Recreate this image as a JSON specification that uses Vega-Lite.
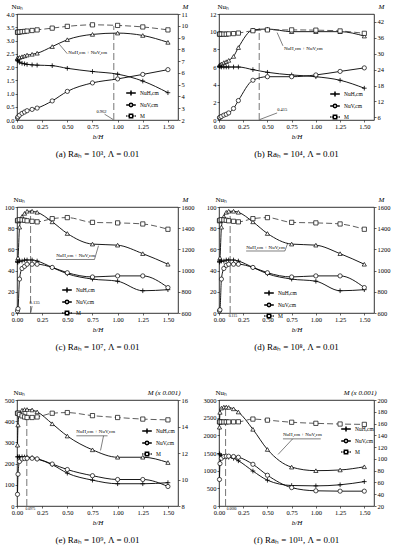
{
"$schema":"https://vega.github.io/schema/vega-lite/v6.json",
"padding":{"left":3,"top":1,"right":0,"bottom":0},
"background":"white",
"datasets":{"d":[
{"p":"a","x":0.005,"NuH":2.25,"NuV":0.08,"S":2.33,"M":9.45},
{"p":"a","x":0.01,"NuH":2.22,"NuV":0.12,"S":2.34,"M":9.45},
{"p":"a","x":0.025,"NuH":2.18,"NuV":0.18,"S":2.36,"M":9.47},
{"p":"a","x":0.05,"NuH":2.14,"NuV":0.25,"S":2.39,"M":9.5},
{"p":"a","x":0.075,"NuH":2.12,"NuV":0.3,"S":2.42,"M":9.52},
{"p":"a","x":0.1,"NuH":2.1,"NuV":0.35,"S":2.45,"M":9.55},
{"p":"a","x":0.15,"NuH":2.08,"NuV":0.4,"S":2.48,"M":9.6},
{"p":"a","x":0.2,"NuH":2.07,"NuV":0.45,"S":2.52,"M":9.65},
{"p":"a","x":0.35,"NuH":2.05,"NuV":0.72,"S":2.77,"M":9.8},
{"p":"a","x":0.5,"NuH":1.95,"NuV":1.08,"S":3.03,"M":9.95},
{"p":"a","x":0.75,"NuH":1.83,"NuV":1.4,"S":3.23,"M":10.08},
{"p":"a","x":1,"NuH":1.73,"NuV":1.55,"S":3.28,"M":10.03},
{"p":"a","x":1.25,"NuH":1.47,"NuV":1.72,"S":3.19,"M":9.9},
{"p":"a","x":1.5,"NuH":1.03,"NuV":1.9,"S":2.93,"M":9.65},
{"p":"b","x":0.005,"NuH":6.1,"NuV":0.25,"S":6.2,"M":37.4},
{"p":"b","x":0.01,"NuH":6.05,"NuV":0.3,"S":6.25,"M":37.4},
{"p":"b","x":0.025,"NuH":6.0,"NuV":0.4,"S":6.35,"M":37.4},
{"p":"b","x":0.05,"NuH":6.0,"NuV":0.55,"S":6.5,"M":37.4},
{"p":"b","x":0.075,"NuH":6.0,"NuV":0.65,"S":6.6,"M":37.4},
{"p":"b","x":0.1,"NuH":6.0,"NuV":0.8,"S":6.75,"M":37.5},
{"p":"b","x":0.15,"NuH":6.0,"NuV":1.3,"S":7.2,"M":37.6},
{"p":"b","x":0.2,"NuH":6.0,"NuV":2.2,"S":8.2,"M":37.8},
{"p":"b","x":0.35,"NuH":5.7,"NuV":4.5,"S":10.2,"M":38.7},
{"p":"b","x":0.5,"NuH":5.4,"NuV":4.9,"S":10.3,"M":39.0},
{"p":"b","x":0.75,"NuH":5.1,"NuV":4.9,"S":10.0,"M":39.0},
{"p":"b","x":1,"NuH":4.9,"NuV":5.1,"S":10.0,"M":38.9},
{"p":"b","x":1.25,"NuH":4.5,"NuV":5.5,"S":10.0,"M":38.6},
{"p":"b","x":1.5,"NuH":3.6,"NuV":5.9,"S":9.5,"M":37.7},
{"p":"c","x":0.005,"NuH":48,"NuV":2,"S":50,"M":1470},
{"p":"c","x":0.01,"NuH":48,"NuV":4,"S":52,"M":1475},
{"p":"c","x":0.025,"NuH":49,"NuV":32,"S":81,"M":1480},
{"p":"c","x":0.05,"NuH":49,"NuV":42,"S":91,"M":1478},
{"p":"c","x":0.075,"NuH":50,"NuV":44,"S":94,"M":1475},
{"p":"c","x":0.1,"NuH":50,"NuV":46,"S":96,"M":1470},
{"p":"c","x":0.15,"NuH":50,"NuV":46,"S":96,"M":1465},
{"p":"c","x":0.2,"NuH":49,"NuV":46,"S":95,"M":1460},
{"p":"c","x":0.35,"NuH":43,"NuV":43,"S":86,"M":1490},
{"p":"c","x":0.5,"NuH":37,"NuV":38,"S":75,"M":1500},
{"p":"c","x":0.75,"NuH":32,"NuV":34,"S":65,"M":1455},
{"p":"c","x":1,"NuH":30,"NuV":35,"S":64,"M":1450},
{"p":"c","x":1.25,"NuH":21,"NuV":35,"S":56,"M":1440},
{"p":"c","x":1.5,"NuH":22,"NuV":24,"S":46,"M":1390},
{"p":"d","x":0.005,"NuH":48,"NuV":2,"S":50,"M":1470},
{"p":"d","x":0.01,"NuH":49,"NuV":3,"S":52,"M":1475},
{"p":"d","x":0.025,"NuH":49,"NuV":32,"S":81,"M":1480},
{"p":"d","x":0.05,"NuH":49,"NuV":42,"S":91,"M":1478},
{"p":"d","x":0.075,"NuH":50,"NuV":45,"S":95,"M":1475},
{"p":"d","x":0.1,"NuH":50,"NuV":46,"S":96,"M":1470},
{"p":"d","x":0.15,"NuH":50,"NuV":46,"S":96,"M":1465},
{"p":"d","x":0.2,"NuH":49,"NuV":46,"S":95,"M":1460},
{"p":"d","x":0.35,"NuH":43,"NuV":43,"S":86,"M":1490},
{"p":"d","x":0.5,"NuH":37,"NuV":38,"S":75,"M":1500},
{"p":"d","x":0.75,"NuH":32,"NuV":34,"S":65,"M":1455},
{"p":"d","x":1,"NuH":30,"NuV":35,"S":64,"M":1450},
{"p":"d","x":1.25,"NuH":21,"NuV":35,"S":56,"M":1440},
{"p":"d","x":1.5,"NuH":22,"NuV":24,"S":46,"M":1390},
{"p":"e","x":0.005,"NuH":232,"NuV":55,"S":287,"M":15.0},
{"p":"e","x":0.01,"NuH":232,"NuV":150,"S":382,"M":15.0},
{"p":"e","x":0.025,"NuH":232,"NuV":210,"S":440,"M":14.9},
{"p":"e","x":0.05,"NuH":232,"NuV":222,"S":452,"M":14.8},
{"p":"e","x":0.075,"NuH":231,"NuV":224,"S":455,"M":14.72},
{"p":"e","x":0.1,"NuH":230,"NuV":225,"S":455,"M":14.68},
{"p":"e","x":0.15,"NuH":228,"NuV":225,"S":453,"M":14.68},
{"p":"e","x":0.2,"NuH":222,"NuV":222,"S":444,"M":14.72},
{"p":"e","x":0.35,"NuH":195,"NuV":198,"S":388,"M":15.0},
{"p":"e","x":0.5,"NuH":155,"NuV":172,"S":330,"M":15.05},
{"p":"e","x":0.75,"NuH":122,"NuV":143,"S":265,"M":14.82},
{"p":"e","x":1,"NuH":105,"NuV":125,"S":230,"M":14.68},
{"p":"e","x":1.25,"NuH":105,"NuV":125,"S":230,"M":14.56},
{"p":"e","x":1.5,"NuH":110,"NuV":92,"S":205,"M":14.5},
{"p":"f","x":0.005,"NuH":1480,"NuV":750,"S":2230,"M":162.8},
{"p":"f","x":0.01,"NuH":1450,"NuV":1200,"S":2650,"M":162.8},
{"p":"f","x":0.025,"NuH":1420,"NuV":1350,"S":2770,"M":162.8},
{"p":"f","x":0.05,"NuH":1400,"NuV":1400,"S":2800,"M":162.8},
{"p":"f","x":0.075,"NuH":1390,"NuV":1410,"S":2800,"M":162.8},
{"p":"f","x":0.1,"NuH":1380,"NuV":1410,"S":2790,"M":162.8},
{"p":"f","x":0.15,"NuH":1350,"NuV":1400,"S":2750,"M":162.9},
{"p":"f","x":0.2,"NuH":1280,"NuV":1380,"S":2660,"M":163.0},
{"p":"f","x":0.35,"NuH":990,"NuV":1180,"S":2170,"M":167.6},
{"p":"f","x":0.5,"NuH":730,"NuV":870,"S":1600,"M":165.8},
{"p":"f","x":0.75,"NuH":580,"NuV":520,"S":1100,"M":162.2},
{"p":"f","x":1,"NuH":570,"NuV":430,"S":1000,"M":160.4},
{"p":"f","x":1.25,"NuH":600,"NuV":420,"S":1020,"M":159.2},
{"p":"f","x":1.5,"NuH":690,"NuV":420,"S":1110,"M":158.6}
],
"leg":[{"leg":"NuH"},{"leg":"NuV"},{"leg":"M"}]
},
"columns":2,
"bounds":"flush",
"spacing":{"row":87,"column":41},
"resolve":{"scale":{"shape":"independent"},"legend":{"shape":"independent"}},
"concat":[
{"width":161,"height":106,"title":"(a) Raₕ = 10³, Λ = 0.01","data":{"name":"d"},
"transform":[{"filter":"datum.p==='a'"},{"fold":["NuH","NuV","S","M"],"as":["s","y"]}],
"resolve":{"scale":{"y":"independent"}},
"layer":[
{"layer":[
{"data":{"values":[{}]},"mark":{"type":"rule","color":"#777","strokeDash":[7,3],"strokeWidth":1},"encoding":{"x":{"datum":0.962},"y":{"datum":0},"y2":{"datum":3.55}}},
{"transform":[{"filter":"datum.s!=='M'"}],"mark":{"type":"line","interpolate":"monotone","color":"black","strokeWidth":0.9},
"encoding":{"x":{"field":"x","type":"quantitative","scale":{"domain":[0,1.5]},"axis":{"title":"b/H","titleFontStyle":"italic","values":[0,0.25,0.5,0.75,1,1.25,1.5],"tickCount":20,"format":".2f"}},
"y":{"field":"y","type":"quantitative","scale":{"domain":[0,4]},"axis":{"title":"Nuₕ","values":[0,0.5,1,1.5,2,2.5,3,3.5,4],"tickCount":20,"format":".1f","titleAngle":0,"titleX":-6,"titleY":-5,"titleAlign":"left","titleBaseline":"bottom"}},"detail":{"field":"s"}}},
{"transform":[{"filter":"datum.s==='S'"}],"mark":{"type":"point","shape":"triangle-up","filled":true,"fill":"white","stroke":"black","strokeWidth":0.7,"size":18,"opacity":1},"encoding":{"x":{"field":"x","type":"quantitative"},"y":{"field":"y","type":"quantitative"}}},
{"transform":[{"filter":"datum.s==='NuH'"}],"mark":{"type":"point","shape":"M-1,0L1,0M0,-1L0,1","filled":true,"fill":"white","stroke":"black","strokeWidth":0.8,"size":22,"opacity":1},"encoding":{"x":{"field":"x","type":"quantitative"},"y":{"field":"y","type":"quantitative"}}},
{"transform":[{"filter":"datum.s==='NuV'"}],"mark":{"type":"point","shape":"circle","filled":true,"fill":"white","stroke":"black","strokeWidth":0.7,"size":18,"opacity":1},"encoding":{"x":{"field":"x","type":"quantitative"},"y":{"field":"y","type":"quantitative"}}},
{"data":{"name":"leg"},"mark":{"type":"point","filled":true,"fill":"white","stroke":"black","strokeWidth":0.7,"opacity":0},"encoding":{"shape":{"field":"leg","type":"nominal","scale":{"domain":["NuH","NuV","M"],"range":["M-1.6,0L1.6,0M0,-0.8L0,0.8","M-1.6,0L-0.55,0M0.55,0L1.6,0M0.55,0A0.55,0.55,0,1,1,-0.55,0A0.55,0.55,0,1,1,0.55,0","M-1.6,0L-1.2,0M-0.95,0L-0.55,0M0.55,0L0.95,0M1.2,0L1.6,0M-0.55,-0.55L0.55,-0.55L0.55,0.55L-0.55,0.55Z"]},"legend":{"title":null,"orient":"none","legendX":110,"legendY":75,"symbolSize":36,"symbolOpacity":1,"labelFontSize":5.5,"labelOffset":5,"rowPadding":1,"labelExpr":"datum.value==='NuH'?'NuH,cm':datum.value==='NuV'?'NuV,cm':'M'"}}}},
{"data":{"values":[{}]},"mark":{"type":"text","fontSize":4.5,"align":"left"},"encoding":{"x":{"datum":0.79},"y":{"datum":0.3},"text":{"value":"0.962"}}},
{"data":{"values":[{}]},"mark":{"type":"rule","color":"black","strokeWidth":0.5},"encoding":{"x":{"datum":0.87},"y":{"datum":0.22},"x2":{"datum":0.955},"y2":{"datum":0.02}}},
{"data":{"values":[{}]},"mark":{"type":"text","fontSize":5,"align":"left"},"encoding":{"x":{"datum":0.51},"y":{"datum":2.55},"text":{"value":"NuH,cm + NuV,cm"}}},
{"data":{"values":[{}]},"mark":{"type":"rule","color":"black","strokeWidth":0.5},"encoding":{"x":{"datum":0.5},"y":{"datum":2.5},"x2":{"datum":0.42},"y2":{"datum":2.86}}}
]},
{"layer":[
{"transform":[{"filter":"datum.s==='M'"}],"mark":{"type":"line","interpolate":"monotone","color":"#333","strokeWidth":0.8,"strokeDash":[6,3]},
"encoding":{"x":{"field":"x","type":"quantitative"},"y":{"field":"y","type":"quantitative","scale":{"domain":[2,11]},"axis":{"orient":"right","title":"M","titleFontStyle":"italic","values":[2,3,4,5,6,7,8,9,10,11],"tickCount":20,"format":"d","titleAngle":0,"titleX":4,"titleY":-5,"titleAlign":"left","titleBaseline":"bottom"}}}},
{"transform":[{"filter":"datum.s==='M'"}],"mark":{"type":"point","shape":"square","filled":true,"fill":"white","stroke":"black","strokeWidth":0.7,"size":18,"opacity":1},"encoding":{"x":{"field":"x","type":"quantitative"},"y":{"field":"y","type":"quantitative"}}}
]}
]},
{"width":155,"height":106,"title":"(b) Raₕ = 10⁴, Λ = 0.01","data":{"name":"d"},
"transform":[{"filter":"datum.p==='b'"},{"fold":["NuH","NuV","S","M"],"as":["s","y"]}],
"resolve":{"scale":{"y":"independent"}},
"layer":[
{"layer":[
{"data":{"values":[{}]},"mark":{"type":"rule","color":"#777","strokeDash":[7,3],"strokeWidth":1},"encoding":{"x":{"datum":0.415},"y":{"datum":0},"y2":{"datum":10.4}}},
{"transform":[{"filter":"datum.s!=='M'"}],"mark":{"type":"line","interpolate":"monotone","color":"black","strokeWidth":0.9},
"encoding":{"x":{"field":"x","type":"quantitative","scale":{"domain":[0,1.5]},"axis":{"title":"b/H","titleFontStyle":"italic","values":[0,0.25,0.5,0.75,1,1.25,1.5],"tickCount":20,"format":".2f"}},
"y":{"field":"y","type":"quantitative","scale":{"domain":[0,12]},"axis":{"title":"Nuₕ","values":[0,2,4,6,8,10,12],"tickCount":20,"format":"d","titleAngle":0,"titleX":-2,"titleY":-5,"titleAlign":"left","titleBaseline":"bottom"}},"detail":{"field":"s"}}},
{"transform":[{"filter":"datum.s==='S'"}],"mark":{"type":"point","shape":"triangle-up","filled":true,"fill":"white","stroke":"black","strokeWidth":0.7,"size":18,"opacity":1},"encoding":{"x":{"field":"x","type":"quantitative"},"y":{"field":"y","type":"quantitative"}}},
{"transform":[{"filter":"datum.s==='NuH'"}],"mark":{"type":"point","shape":"M-1,0L1,0M0,-1L0,1","filled":true,"fill":"white","stroke":"black","strokeWidth":0.8,"size":22,"opacity":1},"encoding":{"x":{"field":"x","type":"quantitative"},"y":{"field":"y","type":"quantitative"}}},
{"transform":[{"filter":"datum.s==='NuV'"}],"mark":{"type":"point","shape":"circle","filled":true,"fill":"white","stroke":"black","strokeWidth":0.7,"size":18,"opacity":1},"encoding":{"x":{"field":"x","type":"quantitative"},"y":{"field":"y","type":"quantitative"}}},
{"data":{"name":"leg"},"mark":{"type":"point","filled":true,"fill":"white","stroke":"black","strokeWidth":0.7,"opacity":0},"encoding":{"shape":{"field":"leg","type":"nominal","scale":{"domain":["NuH","NuV","M"],"range":["M-1.6,0L1.6,0M0,-0.8L0,0.8","M-1.6,0L-0.55,0M0.55,0L1.6,0M0.55,0A0.55,0.55,0,1,1,-0.55,0A0.55,0.55,0,1,1,0.55,0","M-1.6,0L-1.2,0M-0.95,0L-0.55,0M0.55,0L0.95,0M1.2,0L1.6,0M-0.55,-0.55L0.55,-0.55L0.55,0.55L-0.55,0.55Z"]},"legend":{"title":null,"orient":"none","legendX":112,"legendY":76,"symbolSize":36,"symbolOpacity":1,"labelFontSize":5.5,"labelOffset":5,"rowPadding":1,"labelExpr":"datum.value==='NuH'?'NuH,cm':datum.value==='NuV'?'NuV,cm':'M'"}}}},
{"data":{"values":[{}]},"mark":{"type":"text","fontSize":4.5,"align":"left"},"encoding":{"x":{"datum":0.6},"y":{"datum":1.1},"text":{"value":"0.415"}}},
{"data":{"values":[{}]},"mark":{"type":"rule","color":"black","strokeWidth":0.5},"encoding":{"x":{"datum":0.6},"y":{"datum":0.8},"x2":{"datum":0.42},"y2":{"datum":0.05}}},
{"data":{"values":[{}]},"mark":{"type":"text","fontSize":5,"align":"left"},"encoding":{"x":{"datum":0.67},"y":{"datum":8.1},"text":{"value":"NuH,cm + NuV,cm"}}},
{"data":{"values":[{}]},"mark":{"type":"rule","color":"black","strokeWidth":0.5},"encoding":{"x":{"datum":0.66},"y":{"datum":8.4},"x2":{"datum":0.6},"y2":{"datum":9.9}}}
]},
{"layer":[
{"transform":[{"filter":"datum.s==='M'"}],"mark":{"type":"line","interpolate":"monotone","color":"#333","strokeWidth":0.8,"strokeDash":[6,3]},
"encoding":{"x":{"field":"x","type":"quantitative"},"y":{"field":"y","type":"quantitative","scale":{"domain":[6,42]},"axis":{"orient":"right","title":"M","titleFontStyle":"italic","values":[6,12,18,24,30,36,42],"tickCount":20,"format":"d","titleAngle":0,"titleX":4,"titleY":-5,"titleAlign":"left","titleBaseline":"bottom"}}}},
{"transform":[{"filter":"datum.s==='M'"}],"mark":{"type":"point","shape":"square","filled":true,"fill":"white","stroke":"black","strokeWidth":0.7,"size":18,"opacity":1},"encoding":{"x":{"field":"x","type":"quantitative"},"y":{"field":"y","type":"quantitative"}}}
]}
]},
{"width":161,"height":106,"title":"(c) Raₕ = 10⁷, Λ = 0.01","data":{"name":"d"},
"transform":[{"filter":"datum.p==='c'"},{"fold":["NuH","NuV","S","M"],"as":["s","y"]}],
"resolve":{"scale":{"y":"independent"}},
"layer":[
{"layer":[
{"data":{"values":[{}]},"mark":{"type":"rule","color":"#777","strokeDash":[7,3],"strokeWidth":1},"encoding":{"x":{"datum":0.135},"y":{"datum":0},"y2":{"datum":97}}},
{"transform":[{"filter":"datum.s!=='M'"}],"mark":{"type":"line","interpolate":"monotone","color":"black","strokeWidth":0.9},
"encoding":{"x":{"field":"x","type":"quantitative","scale":{"domain":[0,1.5]},"axis":{"title":"b/H","titleFontStyle":"italic","values":[0,0.25,0.5,0.75,1,1.25,1.5],"tickCount":20,"format":".2f"}},
"y":{"field":"y","type":"quantitative","scale":{"domain":[0,100]},"axis":{"title":"Nuₕ","values":[0,20,40,60,80,100],"tickCount":20,"format":"d","titleAngle":0,"titleX":-4,"titleY":-5,"titleAlign":"left","titleBaseline":"bottom"}},"detail":{"field":"s"}}},
{"transform":[{"filter":"datum.s==='S'"}],"mark":{"type":"point","shape":"triangle-up","filled":true,"fill":"white","stroke":"black","strokeWidth":0.7,"size":18,"opacity":1},"encoding":{"x":{"field":"x","type":"quantitative"},"y":{"field":"y","type":"quantitative"}}},
{"transform":[{"filter":"datum.s==='NuH'"}],"mark":{"type":"point","shape":"M-1,0L1,0M0,-1L0,1","filled":true,"fill":"white","stroke":"black","strokeWidth":0.8,"size":22,"opacity":1},"encoding":{"x":{"field":"x","type":"quantitative"},"y":{"field":"y","type":"quantitative"}}},
{"transform":[{"filter":"datum.s==='NuV'"}],"mark":{"type":"point","shape":"circle","filled":true,"fill":"white","stroke":"black","strokeWidth":0.7,"size":18,"opacity":1},"encoding":{"x":{"field":"x","type":"quantitative"},"y":{"field":"y","type":"quantitative"}}},
{"data":{"name":"leg"},"mark":{"type":"point","filled":true,"fill":"white","stroke":"black","strokeWidth":0.7,"opacity":0},"encoding":{"shape":{"field":"leg","type":"nominal","scale":{"domain":["NuH","NuV","M"],"range":["M-1.6,0L1.6,0M0,-0.8L0,0.8","M-1.6,0L-0.55,0M0.55,0L1.6,0M0.55,0A0.55,0.55,0,1,1,-0.55,0A0.55,0.55,0,1,1,0.55,0","M-1.6,0L-1.2,0M-0.95,0L-0.55,0M0.55,0L0.95,0M1.2,0L1.6,0M-0.55,-0.55L0.55,-0.55L0.55,0.55L-0.55,0.55Z"]},"legend":{"title":null,"orient":"none","legendX":46,"legendY":79,"symbolSize":36,"symbolOpacity":1,"labelFontSize":5.5,"labelOffset":5,"rowPadding":1,"labelExpr":"datum.value==='NuH'?'NuH,cm':datum.value==='NuV'?'NuV,cm':'M'"}}}},
{"data":{"values":[{}]},"mark":{"type":"text","fontSize":4.5,"align":"left"},"encoding":{"x":{"datum":0.125},"y":{"datum":9.3},"text":{"value":"0.135"}}},
{"data":{"values":[{}]},"mark":{"type":"rule","color":"black","strokeWidth":0.5},"encoding":{"x":{"datum":0.15},"y":{"datum":6.5},"x2":{"datum":0.137},"y2":{"datum":0.5}}},
{"data":{"values":[{}]},"mark":{"type":"text","fontSize":5,"align":"left"},"encoding":{"x":{"datum":0.39},"y":{"datum":55},"text":{"value":"NuH,cm + NuV,cm"}}},
{"data":{"values":[{}]},"mark":{"type":"rule","color":"black","strokeWidth":0.5},"encoding":{"x":{"datum":0.39},"y":{"datum":50.5},"x2":{"datum":0.77},"y2":{"datum":50.5}}},
{"data":{"values":[{}]},"mark":{"type":"rule","color":"black","strokeWidth":0.5},"encoding":{"x":{"datum":0.77},"y":{"datum":50.5},"x2":{"datum":0.81},"y2":{"datum":63.5}}}
]},
{"layer":[
{"transform":[{"filter":"datum.s==='M'"}],"mark":{"type":"line","interpolate":"monotone","color":"#333","strokeWidth":0.8,"strokeDash":[6,3]},
"encoding":{"x":{"field":"x","type":"quantitative"},"y":{"field":"y","type":"quantitative","scale":{"domain":[600,1600]},"axis":{"orient":"right","title":"M","titleFontStyle":"italic","values":[600,800,1000,1200,1400,1600],"tickCount":20,"format":"d","titleAngle":0,"titleX":4,"titleY":-5,"titleAlign":"left","titleBaseline":"bottom"}}}},
{"transform":[{"filter":"datum.s==='M'"}],"mark":{"type":"point","shape":"square","filled":true,"fill":"white","stroke":"black","strokeWidth":0.7,"size":18,"opacity":1},"encoding":{"x":{"field":"x","type":"quantitative"},"y":{"field":"y","type":"quantitative"}}}
]}
]},
{"width":155,"height":106,"title":"(d) Raₕ = 10⁸, Λ = 0.01","data":{"name":"d"},
"transform":[{"filter":"datum.p==='d'"},{"fold":["NuH","NuV","S","M"],"as":["s","y"]}],
"resolve":{"scale":{"y":"independent"}},
"layer":[
{"layer":[
{"data":{"values":[{}]},"mark":{"type":"rule","color":"#777","strokeDash":[7,3],"strokeWidth":1},"encoding":{"x":{"datum":0.115},"y":{"datum":0},"y2":{"datum":96}}},
{"transform":[{"filter":"datum.s!=='M'"}],"mark":{"type":"line","interpolate":"monotone","color":"black","strokeWidth":0.9},
"encoding":{"x":{"field":"x","type":"quantitative","scale":{"domain":[0,1.5]},"axis":{"title":"b/H","titleFontStyle":"italic","values":[0,0.25,0.5,0.75,1,1.25,1.5],"tickCount":20,"format":".2f"}},
"y":{"field":"y","type":"quantitative","scale":{"domain":[0,100]},"axis":{"title":"Nuₕ","values":[0,20,40,60,80,100],"tickCount":20,"format":"d","titleAngle":0,"titleX":-4,"titleY":-5,"titleAlign":"left","titleBaseline":"bottom"}},"detail":{"field":"s"}}},
{"transform":[{"filter":"datum.s==='S'"}],"mark":{"type":"point","shape":"triangle-up","filled":true,"fill":"white","stroke":"black","strokeWidth":0.7,"size":18,"opacity":1},"encoding":{"x":{"field":"x","type":"quantitative"},"y":{"field":"y","type":"quantitative"}}},
{"transform":[{"filter":"datum.s==='NuH'"}],"mark":{"type":"point","shape":"M-1,0L1,0M0,-1L0,1","filled":true,"fill":"white","stroke":"black","strokeWidth":0.8,"size":22,"opacity":1},"encoding":{"x":{"field":"x","type":"quantitative"},"y":{"field":"y","type":"quantitative"}}},
{"transform":[{"filter":"datum.s==='NuV'"}],"mark":{"type":"point","shape":"circle","filled":true,"fill":"white","stroke":"black","strokeWidth":0.7,"size":18,"opacity":1},"encoding":{"x":{"field":"x","type":"quantitative"},"y":{"field":"y","type":"quantitative"}}},
{"data":{"name":"leg"},"mark":{"type":"point","filled":true,"fill":"white","stroke":"black","strokeWidth":0.7,"opacity":0},"encoding":{"shape":{"field":"leg","type":"nominal","scale":{"domain":["NuH","NuV","M"],"range":["M-1.6,0L1.6,0M0,-0.8L0,0.8","M-1.6,0L-0.55,0M0.55,0L1.6,0M0.55,0A0.55,0.55,0,1,1,-0.55,0A0.55,0.55,0,1,1,0.55,0","M-1.6,0L-1.2,0M-0.95,0L-0.55,0M0.55,0L0.95,0M1.2,0L1.6,0M-0.55,-0.55L0.55,-0.55L0.55,0.55L-0.55,0.55Z"]},"legend":{"title":null,"orient":"none","legendX":46,"legendY":82,"symbolSize":36,"symbolOpacity":1,"labelFontSize":5.5,"labelOffset":5,"rowPadding":1,"labelExpr":"datum.value==='NuH'?'NuH,cm':datum.value==='NuV'?'NuV,cm':'M'"}}}},
{"data":{"values":[{}]},"mark":{"type":"text","fontSize":3.8,"align":"left","baseline":"top"},"encoding":{"x":{"datum":0.1},"y":{"datum":-1.2},"text":{"value":"0.115"}}},
{"data":{"values":[{}]},"mark":{"type":"text","fontSize":5,"align":"left"},"encoding":{"x":{"datum":0.28},"y":{"datum":62},"text":{"value":"NuH,cm + NuV,cm"}}},
{"data":{"values":[{}]},"mark":{"type":"rule","color":"black","strokeWidth":0.5},"encoding":{"x":{"datum":0.28},"y":{"datum":58.5},"x2":{"datum":0.68},"y2":{"datum":58.5}}},
{"data":{"values":[{}]},"mark":{"type":"rule","color":"black","strokeWidth":0.5},"encoding":{"x":{"datum":0.68},"y":{"datum":58.5},"x2":{"datum":0.71},"y2":{"datum":66}}}
]},
{"layer":[
{"transform":[{"filter":"datum.s==='M'"}],"mark":{"type":"line","interpolate":"monotone","color":"#333","strokeWidth":0.8,"strokeDash":[6,3]},
"encoding":{"x":{"field":"x","type":"quantitative"},"y":{"field":"y","type":"quantitative","scale":{"domain":[600,1600]},"axis":{"orient":"right","title":"M","titleFontStyle":"italic","values":[600,800,1000,1200,1400,1600],"tickCount":20,"format":"d","titleAngle":0,"titleX":4,"titleY":-5,"titleAlign":"left","titleBaseline":"bottom"}}}},
{"transform":[{"filter":"datum.s==='M'"}],"mark":{"type":"point","shape":"square","filled":true,"fill":"white","stroke":"black","strokeWidth":0.7,"size":18,"opacity":1},"encoding":{"x":{"field":"x","type":"quantitative"},"y":{"field":"y","type":"quantitative"}}}
]}
]},
{"width":161,"height":106,"title":"(e) Raₕ = 10⁹, Λ = 0.01","data":{"name":"d"},
"transform":[{"filter":"datum.p==='e'"},{"fold":["NuH","NuV","S","M"],"as":["s","y"]}],
"resolve":{"scale":{"y":"independent"}},
"layer":[
{"layer":[
{"data":{"values":[{}]},"mark":{"type":"rule","color":"#777","strokeDash":[7,3],"strokeWidth":1},"encoding":{"x":{"datum":0.0975},"y":{"datum":0},"y2":{"datum":455}}},
{"transform":[{"filter":"datum.s!=='M'"}],"mark":{"type":"line","interpolate":"monotone","color":"black","strokeWidth":0.9},
"encoding":{"x":{"field":"x","type":"quantitative","scale":{"domain":[0,1.5]},"axis":{"title":"b/H","titleFontStyle":"italic","values":[0,0.25,0.5,0.75,1,1.25,1.5],"tickCount":20,"format":".2f"}},
"y":{"field":"y","type":"quantitative","scale":{"domain":[0,500]},"axis":{"title":"Nuₕ","values":[0,100,200,300,400,500],"tickCount":20,"format":"d","titleAngle":0,"titleX":-4,"titleY":-5,"titleAlign":"left","titleBaseline":"bottom"}},"detail":{"field":"s"}}},
{"transform":[{"filter":"datum.s==='S'"}],"mark":{"type":"point","shape":"triangle-up","filled":true,"fill":"white","stroke":"black","strokeWidth":0.7,"size":18,"opacity":1},"encoding":{"x":{"field":"x","type":"quantitative"},"y":{"field":"y","type":"quantitative"}}},
{"transform":[{"filter":"datum.s==='NuH'"}],"mark":{"type":"point","shape":"M-1,0L1,0M0,-1L0,1","filled":true,"fill":"white","stroke":"black","strokeWidth":0.8,"size":22,"opacity":1},"encoding":{"x":{"field":"x","type":"quantitative"},"y":{"field":"y","type":"quantitative"}}},
{"transform":[{"filter":"datum.s==='NuV'"}],"mark":{"type":"point","shape":"circle","filled":true,"fill":"white","stroke":"black","strokeWidth":0.7,"size":18,"opacity":1},"encoding":{"x":{"field":"x","type":"quantitative"},"y":{"field":"y","type":"quantitative"}}},
{"data":{"name":"leg"},"mark":{"type":"point","filled":true,"fill":"white","stroke":"black","strokeWidth":0.7,"opacity":0},"encoding":{"shape":{"field":"leg","type":"nominal","scale":{"domain":["NuH","NuV","M"],"range":["M-1.6,0L1.6,0M0,-0.8L0,0.8","M-1.6,0L-0.55,0M0.55,0L1.6,0M0.55,0A0.55,0.55,0,1,1,-0.55,0A0.55,0.55,0,1,1,0.55,0","M-1.6,0L-1.2,0M-0.95,0L-0.55,0M0.55,0L0.95,0M1.2,0L1.6,0M-0.55,-0.55L0.55,-0.55L0.55,0.55L-0.55,0.55Z"]},"legend":{"title":null,"orient":"none","legendX":126,"legendY":27,"symbolSize":36,"symbolOpacity":1,"labelFontSize":5.5,"labelOffset":5,"rowPadding":1,"labelExpr":"datum.value==='NuH'?'NuH,cm':datum.value==='NuV'?'NuV,cm':'M'"}}}},
{"data":{"values":[{}]},"mark":{"type":"text","fontSize":3.5,"align":"left","baseline":"top"},"encoding":{"x":{"datum":0.085},"y":{"datum":-4},"text":{"value":"0.0975"}}},
{"data":{"values":[{}]},"mark":{"type":"text","fontSize":5,"align":"left"},"encoding":{"x":{"datum":0.59},"y":{"datum":355},"text":{"value":"NuH,cm + NuV,cm"}}},
{"data":{"values":[{}]},"mark":{"type":"rule","color":"black","strokeWidth":0.5},"encoding":{"x":{"datum":0.59},"y":{"datum":331},"x2":{"datum":0.9},"y2":{"datum":331}}},
{"data":{"values":[{}]},"mark":{"type":"rule","color":"black","strokeWidth":0.5},"encoding":{"x":{"datum":0.86},"y":{"datum":331},"x2":{"datum":0.83},"y2":{"datum":262}}}
]},
{"layer":[
{"transform":[{"filter":"datum.s==='M'"}],"mark":{"type":"line","interpolate":"monotone","color":"#333","strokeWidth":0.8,"strokeDash":[6,3]},
"encoding":{"x":{"field":"x","type":"quantitative"},"y":{"field":"y","type":"quantitative","scale":{"domain":[8,16]},"axis":{"orient":"right","title":"M (x 0.001)","titleFontStyle":"italic","values":[8,10,12,14,16],"tickCount":20,"format":"d","titleAngle":0,"titleX":2,"titleY":-5,"titleAlign":"right","titleBaseline":"bottom"}}}},
{"transform":[{"filter":"datum.s==='M'"}],"mark":{"type":"point","shape":"square","filled":true,"fill":"white","stroke":"black","strokeWidth":0.7,"size":18,"opacity":1},"encoding":{"x":{"field":"x","type":"quantitative"},"y":{"field":"y","type":"quantitative"}}}
]}
]},
{"width":155,"height":106,"title":"(f) Raₕ = 10¹¹, Λ = 0.01","data":{"name":"d"},
"transform":[{"filter":"datum.p==='f'"},{"fold":["NuH","NuV","S","M"],"as":["s","y"]}],
"resolve":{"scale":{"y":"independent"}},
"layer":[
{"layer":[
{"data":{"values":[{}]},"mark":{"type":"rule","color":"#777","strokeDash":[7,3],"strokeWidth":1},"encoding":{"x":{"datum":0.068},"y":{"datum":0},"y2":{"datum":2800}}},
{"transform":[{"filter":"datum.s!=='M'"}],"mark":{"type":"line","interpolate":"monotone","color":"black","strokeWidth":0.9},
"encoding":{"x":{"field":"x","type":"quantitative","scale":{"domain":[0,1.5]},"axis":{"title":"b/H","titleFontStyle":"italic","values":[0,0.25,0.5,0.75,1,1.25,1.5],"tickCount":20,"format":".2f"}},
"y":{"field":"y","type":"quantitative","scale":{"domain":[0,3000]},"axis":{"title":"Nuₕ","values":[0,500,1000,1500,2000,2500,3000],"tickCount":20,"format":"d","titleAngle":0,"titleX":-4,"titleY":-5,"titleAlign":"left","titleBaseline":"bottom"}},"detail":{"field":"s"}}},
{"transform":[{"filter":"datum.s==='S'"}],"mark":{"type":"point","shape":"triangle-up","filled":true,"fill":"white","stroke":"black","strokeWidth":0.7,"size":18,"opacity":1},"encoding":{"x":{"field":"x","type":"quantitative"},"y":{"field":"y","type":"quantitative"}}},
{"transform":[{"filter":"datum.s==='NuH'"}],"mark":{"type":"point","shape":"M-1,0L1,0M0,-1L0,1","filled":true,"fill":"white","stroke":"black","strokeWidth":0.8,"size":22,"opacity":1},"encoding":{"x":{"field":"x","type":"quantitative"},"y":{"field":"y","type":"quantitative"}}},
{"transform":[{"filter":"datum.s==='NuV'"}],"mark":{"type":"point","shape":"circle","filled":true,"fill":"white","stroke":"black","strokeWidth":0.7,"size":18,"opacity":1},"encoding":{"x":{"field":"x","type":"quantitative"},"y":{"field":"y","type":"quantitative"}}},
{"data":{"name":"leg"},"mark":{"type":"point","filled":true,"fill":"white","stroke":"black","strokeWidth":0.7,"opacity":0},"encoding":{"shape":{"field":"leg","type":"nominal","scale":{"domain":["NuH","NuV","M"],"range":["M-1.6,0L1.6,0M0,-0.8L0,0.8","M-1.6,0L-0.55,0M0.55,0L1.6,0M0.55,0A0.55,0.55,0,1,1,-0.55,0A0.55,0.55,0,1,1,0.55,0","M-1.6,0L-1.2,0M-0.95,0L-0.55,0M0.55,0L0.95,0M1.2,0L1.6,0M-0.55,-0.55L0.55,-0.55L0.55,0.55L-0.55,0.55Z"]},"legend":{"title":null,"orient":"none","legendX":123,"legendY":25,"symbolSize":36,"symbolOpacity":1,"labelFontSize":5.5,"labelOffset":5,"rowPadding":1,"labelExpr":"datum.value==='NuH'?'NuH,cm':datum.value==='NuV'?'NuV,cm':'M'"}}}},
{"data":{"values":[{}]},"mark":{"type":"text","fontSize":3.5,"align":"left","baseline":"top"},"encoding":{"x":{"datum":0.08},"y":{"datum":-25},"text":{"value":"0.0680"}}},
{"data":{"values":[{}]},"mark":{"type":"text","fontSize":5,"align":"left"},"encoding":{"x":{"datum":0.66},"y":{"datum":2034},"text":{"value":"NuH,cm + NuV,cm"}}},
{"data":{"values":[{}]},"mark":{"type":"rule","color":"black","strokeWidth":0.5},"encoding":{"x":{"datum":0.66},"y":{"datum":1900},"x2":{"datum":1.05},"y2":{"datum":1900}}},
{"data":{"values":[{}]},"mark":{"type":"rule","color":"black","strokeWidth":0.5},"encoding":{"x":{"datum":0.76},"y":{"datum":1900},"x2":{"datum":0.61},"y2":{"datum":1460}}}
]},
{"layer":[
{"transform":[{"filter":"datum.s==='M'"}],"mark":{"type":"line","interpolate":"monotone","color":"#333","strokeWidth":0.8,"strokeDash":[6,3]},
"encoding":{"x":{"field":"x","type":"quantitative"},"y":{"field":"y","type":"quantitative","scale":{"domain":[20,200]},"axis":{"orient":"right","title":"M (x 0.001)","titleFontStyle":"italic","values":[20,40,60,80,100,120,140,160,180,200],"tickCount":20,"format":"d","titleAngle":0,"titleX":2,"titleY":-5,"titleAlign":"right","titleBaseline":"bottom"}}}},
{"transform":[{"filter":"datum.s==='M'"}],"mark":{"type":"point","shape":"square","filled":true,"fill":"white","stroke":"black","strokeWidth":0.7,"size":18,"opacity":1},"encoding":{"x":{"field":"x","type":"quantitative"},"y":{"field":"y","type":"quantitative"}}}
]}
]}
],
"config":{
"font":"Liberation Serif",
"view":{"stroke":"black","strokeWidth":0.8},
"axis":{"grid":false,"domain":false,"labelOverlap":false,"labelFlush":false,"labelFontSize":6.5,"titleFontSize":7,"titleFontWeight":"normal","labelColor":"black","titleColor":"black","tickColor":"black","tickSize":2,"tickWidth":0.6,"labelPadding":1,"titlePadding":3},
"title":{"orient":"bottom","fontSize":9,"fontWeight":"normal","color":"black","offset":10},
"legend":{"labelFont":"Liberation Serif","labelColor":"black"}
}
}
